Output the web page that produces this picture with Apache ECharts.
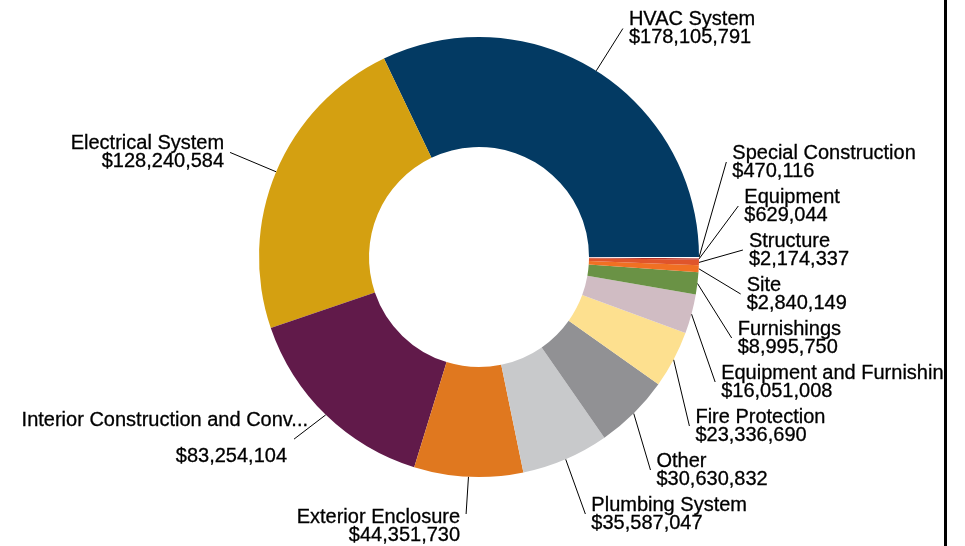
<!DOCTYPE html>
<html>
<head>
<meta charset="utf-8">
<script src="https://cdn.jsdelivr.net/npm/echarts@6/dist/echarts.min.js"></script>
<style>
  html, body { margin: 0; padding: 0; background: #fff; }
  #chart { width: 965px; height: 546px; }
</style>
</head>
<body>
<div id="chart"></div>
<script>
// Cost by building system
const categories = [
  'HVAC System',
  'Electrical System',
  'Interior Construction and Conv...',
  'Exterior Enclosure',
  'Plumbing System',
  'Other',
  'Fire Protection',
  'Equipment and Furnishings',
  'Furnishings',
  'Site',
  'Structure',
  'Equipment',
  'Special Construction'
];
const costs = [
  178105791, 128240584, 83254104, 44351730, 35587047, 30630832,
  23336690, 16051008, 8995750, 2840149, 2174337, 629044, 470116
];
const colors = [
  '#033a63', '#d4a011', '#611a4a', '#e0781f', '#c8c9cb', '#919194',
  '#fde08f', '#d0bcc3', '#6a9245', '#f07023', '#e0552b', '#b8322a', '#ffffff'
];

const FONT = 'Liberation Sans, Arial, sans-serif';
const money = v => '$' + v.toLocaleString('en-US');

const data = categories.map((name, i) => {
  const item = { name: name, value: costs[i], itemStyle: { color: colors[i] } };
  if (name.endsWith('...')) {
    // long name sits above its value, separated by a blank line
    item.label = {
      formatter: p => '{n|' + p.name + '}\n\n{v|' + money(p.value) + '}',
      rich: {
        n: { fontSize: 20, lineHeight: 18, fontFamily: FONT, color: '#000' },
        v: { fontSize: 20, lineHeight: 18, fontFamily: FONT, color: '#000', padding: [0, 21, 0, 0] }
      }
    };
  }
  return item;
});

// small nudges for the two labels at the lower left
const labelNudge = {
  'Interior Construction and Conv...': { dx: 20, dy: -1 },
  'Exterior Enclosure': { dy: 12 }
};

const chart = echarts.init(document.getElementById('chart'), null, { renderer: 'canvas' });
chart.setOption({
  animation: false,
  backgroundColor: '#fff',
  series: [{
    type: 'pie',
    top: 0,
    bottom: 10,
    center: [479, 257],
    radius: [110, 220],
    startAngle: 0,
    clockwise: false,
    avoidLabelOverlap: true,
    emphasis: { disabled: true },
    label: {
      show: true,
      position: 'outside',
      formatter: p => p.name + '\n' + money(p.value),
      fontFamily: FONT,
      fontSize: 20,
      lineHeight: 18,
      color: '#000',
      textBorderColor: '#000',
      textBorderWidth: 0.3,
      overflow: 'none',
      padding: [3, 0, 3, 0],
      distanceToLabelLine: 6
    },
    labelLine: {
      show: true,
      length: 50,
      length2: 0,
      smooth: false,
      lineStyle: { color: '#000', width: 1 }
    },
    labelLayout: params => labelNudge[categories[params.dataIndex]] || {},
    data: data
  }],
  graphic: [
    { type: 'rect', z: 100, shape: { x: 943, y: 0, width: 22, height: 546 }, style: { fill: '#fff' } },
    { type: 'rect', z: 101, shape: { x: 944, y: 0, width: 3, height: 546 }, style: { fill: '#000' } }
  ]
});
</script>
</body>
</html>
